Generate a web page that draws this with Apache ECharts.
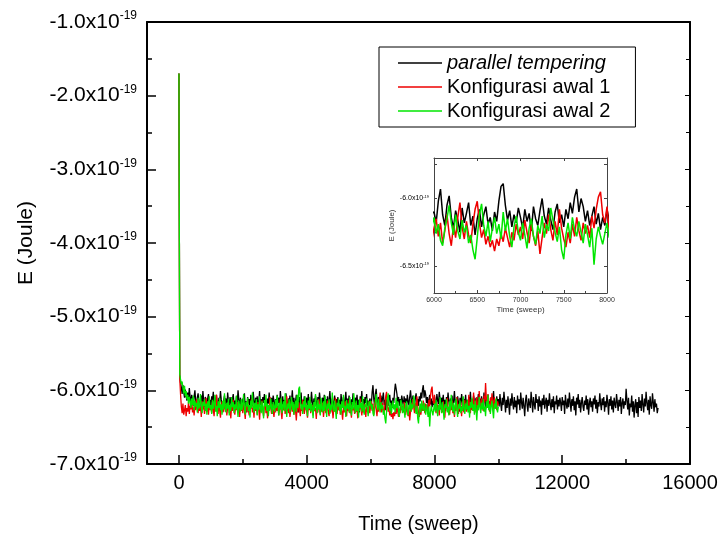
<!DOCTYPE html>
<html>
<head>
<meta charset="utf-8">
<script src="https://cdn.jsdelivr.net/npm/echarts@6/dist/echarts.min.js"></script>
<style>html,body{margin:0;padding:0;background:#fff}#c{width:723px;height:539px}</style>
</head>
<body>
<div id="c"></div>
<script>
// Energy values in units of 1e-19 Joule, sampled every STEP sweeps starting at sweep 0
var STEP = 25;
var seriesNames = ['parallel tempering', 'Konfigurasi awal 1', 'Konfigurasi awal 2'];
var xTickLabels = [0, 4000, 8000, 12000, 16000];
var xMinorTicks = [2000, 6000, 10000, 14000];
var yTickLabels = [-7, -6, -5, -4, -3, -2, -1];
var insetXTicks = [6000, 6500, 7000, 7500, 8000];
var insetYLabels = [-6.5, -6.0];
var insetYTicks = [-6.5, -6.25, -6.0, -5.75];

var parallelTempering = [
-1.70,-5.80,-5.90,-5.96,-6.05,-5.93,-6.02,-6.10,-5.99,-6.08,
-6.14,-6.03,-6.11,-5.97,-6.09,-6.18,-6.06,-6.13,-6.21,-6.08,
-6.00,-6.15,-6.22,-6.10,-6.04,-6.17,-6.26,-6.12,-6.07,-6.19,
-6.01,-6.14,-6.23,-6.09,-6.16,-6.28,-6.11,-6.05,-6.18,-6.13,
-6.24,-6.08,-6.15,-6.02,-6.20,-6.27,-6.12,-6.06,-6.18,-6.25,
-6.10,-6.16,-6.01,-6.13,-6.22,-6.29,-6.14,-6.07,-6.19,-6.11,
-6.24,-6.03,-6.15,-6.21,-6.09,-6.17,-6.28,-6.12,-6.05,-6.20,
-6.14,-6.25,-6.08,-6.18,-6.00,-6.13,-6.23,-6.10,-6.19,-6.26,
-6.11,-6.17,-6.04,-6.22,-6.15,-6.30,-6.09,-6.18,-6.12,-6.25,
-6.06,-6.16,-6.21,-6.02,-6.14,-6.27,-6.10,-6.19,-6.08,-6.23,
-6.15,-6.01,-6.20,-6.12,-6.26,-6.09,-6.17,-6.05,-6.22,-6.14,
-6.29,-6.11,-6.18,-6.03,-6.16,-6.24,-6.10,-6.20,-6.07,-6.15,
-6.21,-6.12,-6.27,-6.06,-6.17,-6.10,-6.23,-6.01,-6.14,-6.19,
-6.08,-6.26,-6.13,-6.20,-6.04,-6.16,-6.28,-6.11,-6.18,-6.07,
-6.22,-6.14,-6.00,-6.19,-6.10,-6.25,-6.15,-6.06,-6.21,-6.12,
-6.30,-6.09,-6.17,-6.03,-6.23,-6.13,-6.19,-6.08,-6.26,-6.15,
-6.10,-6.20,-6.05,-6.24,-6.14,-6.18,-6.02,-6.16,-6.27,-6.11,
-6.21,-6.07,-6.15,-6.25,-6.09,-6.19,-6.03,-6.13,-6.28,-6.17,
-6.10,-6.22,-6.06,-6.18,-6.12,-6.26,-6.08,-6.20,-6.14,-6.01,
-6.17,-6.23,-6.11,-6.29,-6.15,-6.07,-6.19,-6.12,-6.24,-6.09,
-6.18,-6.13,-6.25,-6.05,-6.16,-6.21,-6.09,-6.27,-6.14,-6.02,
-6.19,-6.11,-6.23,-6.07,-6.17,-6.28,-6.12,-6.20,-6.04,-6.15,
-6.24,-6.10,-6.18,-6.06,-6.22,-6.13,-6.30,-6.08,-6.16,-6.01,
-6.19,-6.12,-6.25,-6.09,-6.17,-6.05,-6.21,-6.14,-6.27,-6.11,
-6.10,-6.18,-6.02,-5.93,-6.12,-6.20,-6.05,-5.98,-6.14,-6.22,
-6.09,-6.16,-6.25,-6.07,-6.18,-6.11,-6.03,-6.20,-6.13,-6.27,
-6.15,-6.08,-6.21,-6.12,-6.06,-6.19,-6.14,-6.24,-6.10,-6.17,
-6.02,-5.91,-5.89,-6.05,-6.16,-6.09,-6.21,-6.12,-6.18,-6.07,
-6.14,-6.22,-6.08,-6.17,-6.11,-6.24,-6.06,-6.15,-6.20,-6.09,
-6.00,-6.13,-6.19,-6.07,-6.16,-6.23,-6.10,-6.04,-6.18,-6.12,
-6.21,-6.08,-6.15,-6.03,-6.11,-5.99,-5.93,-6.10,-6.00,-6.06,
-6.17,-6.09,-6.20,-6.13,-6.06,-6.19,-6.11,-6.23,-6.14,-6.20,
-6.08,-6.16,-6.22,-6.05,-6.14,-6.19,-6.02,-6.12,-6.25,-6.10,
-6.17,-6.06,-6.21,-6.13,-6.28,-6.09,-6.18,-6.03,-6.15,-6.23,
-6.11,-6.19,-6.07,-6.26,-6.14,-6.01,-6.17,-6.12,-6.22,-6.08,
-6.16,-6.29,-6.10,-6.20,-6.05,-6.15,-6.24,-6.12,-6.18,-6.06,
-6.21,-6.13,-6.27,-6.09,-6.17,-6.02,-6.19,-6.12,-6.25,-6.07,
-6.15,-6.22,-6.10,-6.30,-6.14,-6.05,-6.18,-6.11,-6.24,-6.08,
-6.16,-6.20,-6.03,-6.13,-6.26,-6.10,-6.19,-6.06,-6.22,-6.15,
-6.28,-6.09,-6.17,-6.12,-6.01,-6.20,-6.14,-6.25,-6.08,-6.18,
-6.12,-6.22,-6.05,-6.18,-6.28,-6.10,-6.20,-6.02,-6.15,-6.30,
-6.13,-6.24,-6.08,-6.19,-6.33,-6.11,-6.21,-6.04,-6.17,-6.26,
-6.09,-6.23,-6.14,-6.31,-6.07,-6.19,-6.12,-6.27,-6.03,-6.16,
-6.25,-6.10,-6.21,-6.35,-6.14,-6.06,-6.20,-6.29,-6.11,-6.18,
-6.24,-6.02,-6.15,-6.30,-6.09,-6.19,-6.26,-6.05,-6.17,-6.12,
-6.28,-6.08,-6.22,-6.14,-6.33,-6.11,-6.20,-6.06,-6.25,-6.16,
-6.10,-6.29,-6.13,-6.21,-6.04,-6.18,-6.27,-6.12,-6.23,-6.08,
-6.31,-6.15,-6.19,-6.07,-6.26,-6.13,-6.22,-6.10,-6.17,-6.28,
-6.09,-6.20,-6.14,-6.32,-6.06,-6.18,-6.25,-6.11,-6.23,-6.03,
-6.16,-6.29,-6.12,-6.21,-6.08,-6.27,-6.15,-6.34,-6.10,-6.19,
-6.05,-6.24,-6.13,-6.30,-6.17,-6.09,-6.22,-6.28,-6.14,-6.20,
-6.07,-6.26,-6.12,-6.33,-6.18,-6.10,-6.23,-6.15,-6.29,-6.11,
-6.19,-6.07,-6.25,-6.13,-6.31,-6.16,-6.22,-6.04,-6.18,-6.27,
-6.11,-6.20,-6.09,-6.29,-6.15,-6.23,-6.06,-6.17,-6.33,-6.12,
-6.21,-6.08,-6.26,-6.14,-6.30,-6.10,-6.19,-6.24,-6.05,-6.16,
-6.28,-6.13,-6.22,-6.09,-6.32,-6.17,-6.11,-6.25,-6.15,-6.20,
-5.98,-6.14,-6.26,-6.10,-6.34,-6.18,-6.23,-6.07,-6.29,-6.15,
-6.37,-6.20,-6.12,-6.31,-6.16,-6.36,-6.09,-6.24,-6.14,-6.28,
-6.05,-6.19,-6.30,-6.11,-6.22,-6.02,-6.17,-6.27,-6.13,-6.33,
-6.08,-6.20,-6.25,-6.04,-6.16,-6.29,-6.12,-6.23,-6.18,-6.31,
-6.24
];
var konfigurasi1 = [
-1.70,-5.84,-6.05,-6.22,-6.31,-6.18,-6.33,-6.27,-6.20,-6.35,
-6.24,-6.29,-6.16,-6.32,-6.21,-6.26,-6.14,-6.30,-6.23,-6.34,
-6.19,-6.27,-6.12,-6.25,-6.31,-6.18,-6.28,-6.22,-6.36,-6.15,
-6.26,-6.20,-6.32,-6.24,-6.10,-6.29,-6.23,-6.33,-6.17,-6.27,
-6.21,-6.31,-6.14,-6.26,-6.35,-6.19,-6.28,-6.06,-6.24,-6.32,
-6.18,-6.27,-6.37,-6.22,-6.15,-6.30,-6.25,-6.12,-6.29,-6.20,
-6.34,-6.23,-6.17,-6.31,-6.26,-6.38,-6.19,-6.28,-6.13,-6.25,
-6.33,-6.21,-6.27,-6.16,-6.30,-6.24,-6.36,-6.19,-6.28,-6.22,
-6.31,-6.17,-6.26,-6.39,-6.22,-6.29,-6.13,-6.27,-6.34,-6.20,
-6.25,-6.11,-6.30,-6.24,-6.37,-6.19,-6.28,-6.23,-6.33,-6.16,
-6.26,-6.40,-6.21,-6.29,-6.14,-6.27,-6.35,-6.22,-6.18,-6.31,
-6.25,-6.38,-6.20,-6.28,-6.09,-6.24,-6.32,-6.19,-6.27,-6.36,
-6.23,-6.30,-6.15,-6.28,-6.21,-6.34,-6.26,-6.12,-6.29,-6.39,
-6.22,-6.27,-6.18,-6.32,-6.25,-6.08,-6.24,-6.31,-6.20,-6.36,
-6.26,-6.14,-6.29,-6.23,-6.33,-6.19,-6.27,-6.41,-6.22,-6.30,
-6.16,-6.25,-6.35,-6.21,-6.28,-6.13,-6.26,-6.32,-6.24,-6.19,
-6.29,-6.37,-6.22,-6.27,-6.15,-6.31,-6.25,-6.20,-6.34,-6.18,
-6.28,-6.24,-6.39,-6.21,-6.30,-6.12,-6.26,-6.33,-6.23,-6.29,
-6.17,-6.36,-6.25,-6.20,-6.31,-6.27,-6.14,-6.28,-6.35,-6.22,
-6.30,-6.19,-6.26,-6.38,-6.23,-6.29,-6.10,-6.25,-6.32,-6.21,
-6.27,-6.18,-6.33,-6.24,-6.29,-6.40,-6.22,-6.30,-6.15,-6.26,
-6.35,-6.21,-6.28,-6.13,-6.31,-6.25,-6.37,-6.19,-6.27,-6.23,
-6.32,-6.17,-6.29,-6.26,-6.38,-6.20,-6.28,-6.11,-6.25,-6.34,
-6.22,-6.30,-6.18,-6.27,-6.36,-6.21,-6.29,-6.24,-6.15,-6.31,
-6.22,-6.15,-6.28,-6.18,-6.33,-6.24,-6.12,-6.26,-6.35,-6.20,
-6.29,-6.14,-6.03,-6.21,-6.30,-6.17,-6.27,-6.33,-6.19,-6.08,
-6.02,-6.18,-6.29,-6.23,-6.34,-6.28,-6.36,-6.31,-6.39,-6.30,
-6.35,-6.26,-6.32,-6.22,-6.29,-6.36,-6.25,-6.31,-6.19,-6.27,
-6.21,-6.30,-6.16,-6.25,-6.33,-6.19,-6.28,-6.35,-6.24,-6.41,
-6.29,-6.18,-6.26,-6.12,-6.23,-6.31,-6.17,-6.27,-6.08,-6.22,
-6.30,-6.36,-6.25,-6.33,-6.19,-6.28,-6.14,-6.24,-6.31,-6.18,
-6.26,-6.20,-6.29,-6.13,-6.22,-6.08,-5.99,-5.95,-6.12,-6.18,
-6.06,-6.24,-6.31,-6.17,-6.27,-6.20,-6.34,-6.12,-6.26,-6.22,
-6.30,-6.15,-6.28,-6.37,-6.19,-6.25,-6.10,-6.29,-6.23,-6.33,
-6.18,-6.27,-6.14,-6.31,-6.24,-6.36,-6.20,-6.28,-6.09,-6.25,
-6.32,-6.18,-6.27,-6.21,-6.35,-6.15,-6.26,-6.30,-6.13,-6.24,
-6.29,-6.16,-6.25,-6.06,-6.22,-6.31,-6.12,-6.27,-6.19,-6.03,
-6.24,-6.14,-6.30,-6.09,-6.21,-6.27,-6.01,-6.18,-6.25,-6.11,
-6.20,-6.28,-6.07,-6.16,-5.90,-6.12,-6.24,-6.05,-6.19,-6.29,
-6.10,-6.22,-6.04,-6.17,-6.26,-6.09,-6.20,-6.13,-6.27,-6.15,
-6.20
];
var konfigurasi2 = [
-1.70,-5.78,-5.85,-5.92,-5.88,-5.97,-6.04,-5.94,-6.08,-6.01,
-6.12,-6.06,-6.18,-6.09,-6.15,-6.24,-6.11,-6.20,-6.07,-6.27,
-6.14,-6.22,-6.17,-6.30,-6.10,-6.25,-6.19,-6.05,-6.23,-6.31,
-6.16,-6.21,-6.12,-6.28,-6.18,-6.33,-6.15,-6.24,-6.08,-6.26,
-6.20,-6.32,-6.13,-6.25,-6.18,-6.06,-6.29,-6.21,-6.35,-6.15,
-6.24,-6.10,-6.27,-6.19,-6.33,-6.14,-6.26,-6.04,-6.22,-6.30,
-6.17,-6.25,-6.11,-6.34,-6.20,-6.28,-6.09,-6.23,-6.16,-6.31,
-6.19,-6.26,-6.07,-6.24,-6.36,-6.14,-6.22,-6.29,-6.12,-6.27,
-6.18,-6.05,-6.25,-6.33,-6.16,-6.22,-6.10,-6.28,-6.20,-6.37,
-6.14,-6.24,-6.03,-6.21,-6.30,-6.17,-6.26,-6.12,-6.34,-6.19,
-6.27,-6.08,-6.23,-6.31,-6.15,-6.25,-6.38,-6.13,-6.22,-6.06,
-6.28,-6.18,-6.35,-6.20,-6.26,-6.11,-6.24,-6.32,-6.16,-6.22,
-6.29,-6.13,-6.24,-6.07,-6.20,-6.34,-6.17,-6.26,-6.10,-6.31,
-6.22,-6.15,-6.28,-6.04,-6.23,-6.36,-6.18,-6.25,-6.12,-6.30,
-6.20,-6.09,-6.27,-6.16,-6.33,-6.21,-6.14,-6.29,-6.06,-6.24,
-5.98,-5.95,-6.12,-6.26,-6.19,-6.32,-6.15,-6.23,-6.08,-6.27,
-6.20,-6.35,-6.14,-6.25,-6.09,-6.29,-6.18,-6.23,-6.38,-6.16,
-6.27,-6.05,-6.22,-6.31,-6.13,-6.26,-6.19,-6.34,-6.10,-6.24,
-6.30,-6.15,-6.28,-6.07,-6.21,-6.36,-6.18,-6.25,-6.12,-6.32,
-6.20,-6.27,-6.03,-6.23,-6.29,-6.14,-6.26,-6.39,-6.17,-6.22,
-6.11,-6.28,-6.19,-6.33,-6.15,-6.24,-6.06,-6.27,-6.21,-6.36,
-6.13,-6.25,-6.18,-6.30,-6.09,-6.23,-6.34,-6.16,-6.26,-6.04,
-6.22,-6.31,-6.14,-6.28,-6.20,-6.37,-6.12,-6.24,-6.17,-6.29,
-6.08,-6.25,-6.33,-6.19,-6.23,-6.11,-6.27,-6.35,-6.15,-6.21,
-6.14,-6.26,-6.19,-6.31,-6.35,-6.22,-6.15,-6.05,-6.18,-6.27,
-6.12,-6.24,-6.30,-6.16,-6.25,-6.20,-6.33,-6.27,-6.38,-6.45,
-6.29,-6.12,-6.04,-6.20,-6.28,-6.17,-6.32,-6.22,-6.14,-6.26,
-6.19,-6.30,-6.10,-6.24,-6.15,-6.28,-6.36,-6.21,-6.13,-6.25,
-6.31,-6.18,-6.27,-6.37,-6.22,-6.15,-6.28,-6.34,-6.20,-6.26,
-6.13,-6.29,-6.19,-6.24,-6.07,-6.16,-6.25,-6.32,-6.21,-6.38,
-6.45,-6.27,-6.18,-6.30,-6.14,-6.23,-6.28,-6.17,-6.25,-6.33,
-6.19,-6.27,-6.36,-6.22,-6.49,-6.30,-6.21,-6.28,-6.34,-6.26,
-6.18,-6.29,-6.13,-6.25,-6.35,-6.20,-6.27,-6.09,-6.23,-6.31,
-6.16,-6.26,-6.40,-6.19,-6.24,-6.12,-6.30,-6.22,-6.34,-6.15,
-6.27,-6.06,-6.21,-6.29,-6.17,-6.33,-6.23,-6.11,-6.26,-6.36,
-6.19,-6.25,-6.14,-6.31,-6.22,-6.28,-6.08,-6.24,-6.32,-6.18,
-6.26,-6.13,-6.30,-6.21,-6.37,-6.16,-6.24,-6.10,-6.28,-6.19,
-6.33,-6.14,-6.25,-6.41,-6.20,-6.27,-6.09,-6.23,-6.31,-6.17,
-6.26,-6.12,-6.29,-6.22,-6.35,-6.15,-6.24,-6.06,-6.27,-6.19,
-6.32,-6.21,-6.14,-6.28,-6.38,-6.18,-6.25,-6.11,-6.23,-6.30,
-6.22
];

function pairs(arr){ return arr.map(function(v,i){ return [i*STEP, v]; }); }
var colors = ['#000000', '#ee0000', '#00e600'];
var dataSets = [parallelTempering, konfigurasi1, konfigurasi2];
var FONT = 'Liberation Sans';

var chart = echarts.init(document.getElementById('c'), null, {renderer:'canvas'});

function yLab(size, sup, raise){
  return {
    formatter: function(v){ return '{a|' + v.toFixed(1) + 'x10}{s|-19}'; },
    rich: {
      a: {fontSize: size, fontFamily: FONT, color:'#000'},
      s: {fontSize: sup, fontFamily: FONT, color:'#000', verticalAlign:'top', padding:[0,0,raise,0]}
    }
  };
}

var series = [];
dataSets.forEach(function(d, k){
  series.push({name: seriesNames[k], type:'line', xAxisIndex:0, yAxisIndex:0, data: pairs(d),
    showSymbol:false, symbol:'none', animation:false, lineStyle:{color:colors[k], width:1.3}, itemStyle:{color:colors[k]}, z: 3+k});
});
dataSets.forEach(function(d, k){
  series.push({name: seriesNames[k], type:'line', xAxisIndex:3, yAxisIndex:2, data: pairs(d),
    showSymbol:false, symbol:'none', animation:false, clip:true, lineStyle:{color:colors[k], width:1.5}, itemStyle:{color:colors[k]}, z: 13+k});
});

var option = {
  backgroundColor:'#fff',
  animation:false,
  textStyle:{fontFamily: FONT},
  grid:[
    {left:147, right:33, top:22, bottom:75, show:false},
    {left:434, right:116, top:158, bottom:246, show:true, backgroundColor:'#fff', borderWidth:0, z:10}
  ],
  legend:{
    data: seriesNames.map(function(n, k){ return {name:n, itemStyle:{color:colors[k], opacity:1}}; }),
    orient:'vertical', left:379, top:47,
    backgroundColor:'#fff', borderColor:'#000', borderWidth:1,
    padding:[6,25,6,19], itemGap:4, itemWidth:44, itemHeight:1.5, itemTextGap:6,
    icon:'rect',
    formatter: function(n){ return n === seriesNames[0] ? '{i|' + n + '}' : n; },
    textStyle:{fontSize:20, lineHeight:20, fontFamily:FONT, color:'#000',
      rich:{i:{fontStyle:'italic', fontSize:20, lineHeight:20, fontFamily:FONT, color:'#000'}}},
    selectedMode:false
  },
  xAxis:[
    {gridIndex:0, type:'value', min:-1000, max:16000, position:'bottom',
     name:'Time (sweep)', nameLocation:'middle', nameGap:50, nameTextStyle:{fontSize:20, fontFamily:FONT, color:'#000'},
     axisLine:{show:true, onZero:false, lineStyle:{color:'#000', width:2}},
     axisTick:{show:true, inside:true, length:9, lineStyle:{color:'#000', width:1.5}, customValues: xTickLabels},
     axisLabel:{show:true, fontSize:20, fontFamily:FONT, color:'#000', margin:9, customValues: xTickLabels,
       formatter:function(v){ return String(v); }},
     splitLine:{show:false}},
    {gridIndex:0, type:'value', min:-1000, max:16000, position:'top',
     axisLine:{show:true, onZero:false, lineStyle:{color:'#000', width:2}},
     axisTick:{show:false}, axisLabel:{show:false}, splitLine:{show:false}},
    {gridIndex:0, type:'value', min:-1000, max:16000, position:'bottom',
     axisLine:{show:false, onZero:false},
     axisTick:{show:true, inside:true, length:5, lineStyle:{color:'#000', width:1.5}, customValues: xMinorTicks},
     axisLabel:{show:false, customValues: xMinorTicks}, splitLine:{show:false}},
    {gridIndex:1, type:'value', min:6000, max:8000, interval:500, position:'bottom', z:12,
     name:'Time (sweep)', nameLocation:'middle', nameGap:13, nameTextStyle:{fontSize:8, fontFamily:FONT, color:'#333'},
     axisLine:{show:true, onZero:false, lineStyle:{color:'#444', width:1}},
     axisTick:{show:true, inside:true, length:3, lineStyle:{color:'#444'}},
     minorTick:{show:true, splitNumber:2, length:2, lineStyle:{color:'#444'}},
     axisLabel:{fontSize:7, fontFamily:FONT, color:'#333', margin:4, formatter:function(v){ return String(v); }},
     splitLine:{show:false}},
    {gridIndex:1, type:'value', min:6000, max:8000, interval:500, position:'top', z:12,
     axisLine:{show:true, onZero:false, lineStyle:{color:'#444', width:1}},
     axisTick:{show:true, inside:true, length:3, lineStyle:{color:'#444'}},
     axisLabel:{show:false}, splitLine:{show:false}}
  ],
  yAxis:[
    {gridIndex:0, type:'value', min:-7, max:-1, interval:1, position:'left',
     name:'E (Joule)', nameLocation:'middle', nameGap:110, nameRotate:90, nameTextStyle:{fontSize:21, fontFamily:FONT, color:'#000'},
     axisLine:{show:true, onZero:false, lineStyle:{color:'#000', width:2}},
     axisTick:{show:true, inside:true, length:9, lineStyle:{color:'#000', width:1.5}},
     minorTick:{show:true, splitNumber:2, length:5, lineStyle:{color:'#000', width:1.5}},
     axisLabel: Object.assign({margin:10, customValues: yTickLabels}, yLab(21, 12, 12)),
     splitLine:{show:false}},
    {gridIndex:0, type:'value', min:-7, max:-1, interval:1, position:'right',
     axisLine:{show:true, onZero:false, lineStyle:{color:'#000', width:2}},
     axisTick:{show:true, inside:true, length:5, lineStyle:{color:'#000', width:1}},
     minorTick:{show:true, splitNumber:2, length:4, lineStyle:{color:'#000', width:1}},
     axisLabel:{show:false}, splitLine:{show:false}},
    {gridIndex:1, type:'value', min:-6.7, max:-5.7, position:'left', z:12,
     name:'E (Joule)', nameLocation:'middle', nameGap:33, nameRotate:90, nameTextStyle:{fontSize:8, fontFamily:FONT, color:'#333'},
     axisLine:{show:true, onZero:false, lineStyle:{color:'#444', width:1}},
     axisTick:{show:true, inside:true, length:3, lineStyle:{color:'#444'}, customValues: insetYTicks},
     axisLabel: Object.assign({margin:5, customValues: insetYLabels}, yLab(7, 4, 4)),
     splitLine:{show:false}},
    {gridIndex:1, type:'value', min:-6.7, max:-5.7, position:'right', z:12,
     axisLine:{show:true, onZero:false, lineStyle:{color:'#444', width:1}},
     axisTick:{show:true, inside:true, length:3, lineStyle:{color:'#444'}, customValues: insetYTicks},
     axisLabel:{show:false}, splitLine:{show:false}}
  ],
  series: series
};
chart.setOption(option);
</script>
</body>
</html>
